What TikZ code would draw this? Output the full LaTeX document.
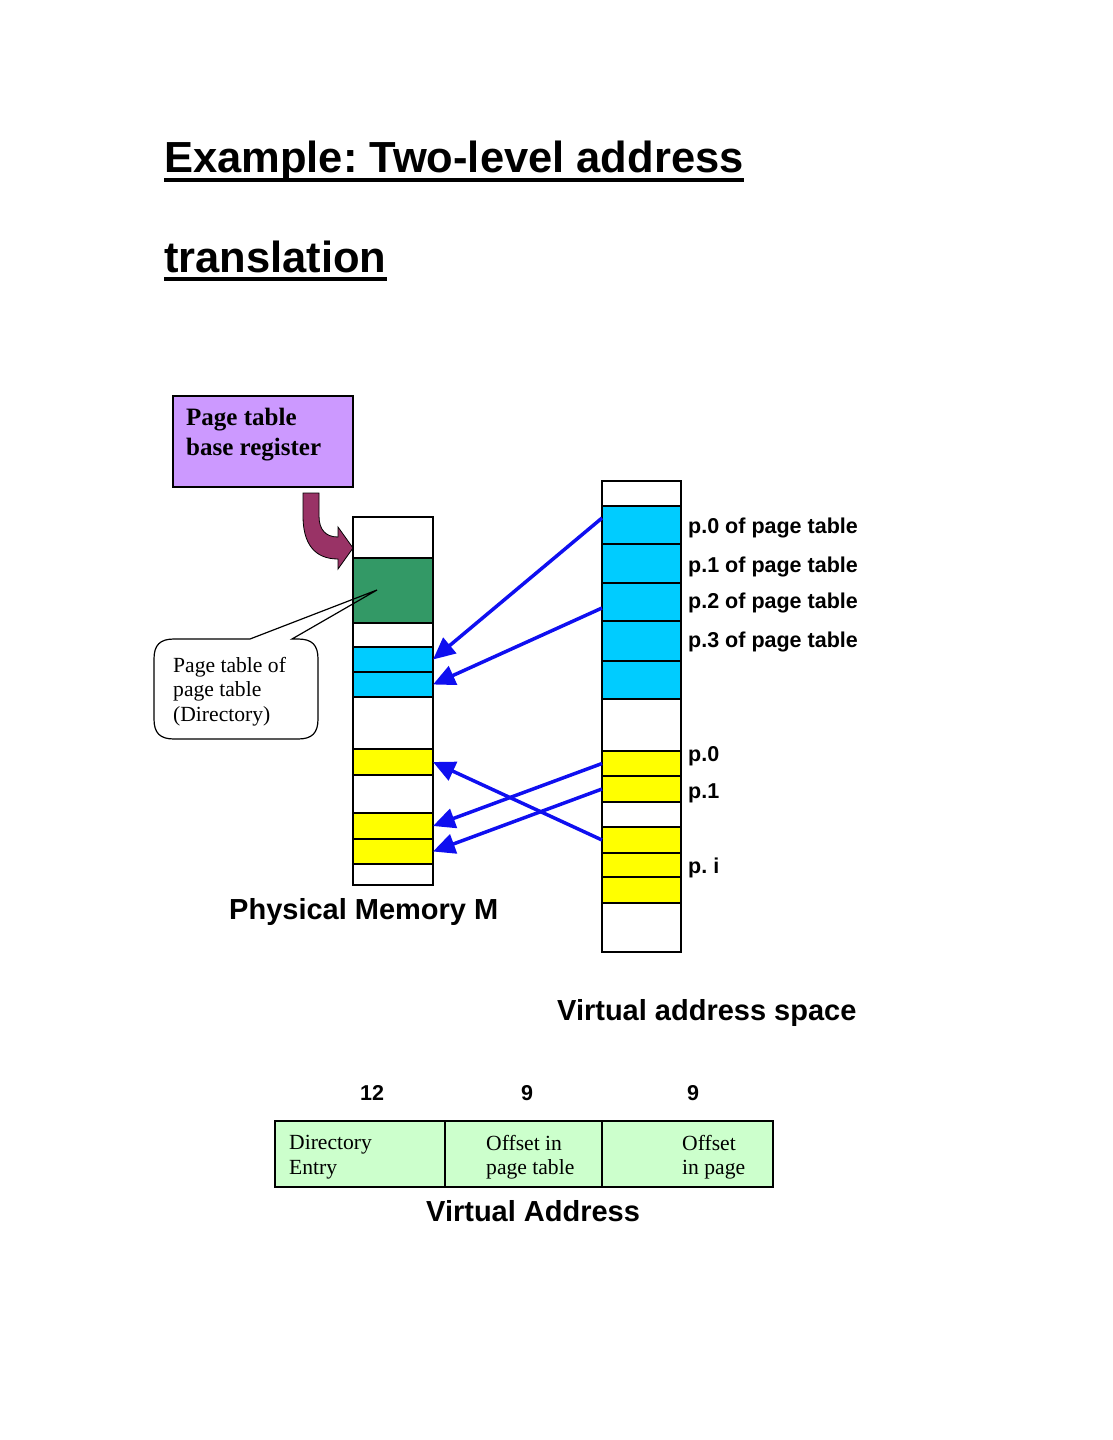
\documentclass[tikz,border=0pt]{standalone}
\usepackage{fontspec}
\setmainfont{Liberation Serif}
\newfontfamily\arialf{Liberation Sans}
\usetikzlibrary{arrows.meta}
\definecolor{cyanc}{RGB}{0,204,255}
\definecolor{yel}{RGB}{255,255,0}
\definecolor{grn}{RGB}{51,153,102}
\definecolor{purp}{RGB}{204,153,255}
\definecolor{lgrn}{RGB}{204,255,204}
\definecolor{arrblue}{RGB}{15,15,240}
\definecolor{plum}{RGB}{153,51,102}
\frenchspacing
\begin{document}
\begin{tikzpicture}[x=1pt,y=-1pt,
  mcell/.style={draw=black, line width=1.2pt, minimum width=80pt, inner sep=0pt, outer sep=0pt},
  vcell/.style={draw=black, line width=1.2pt, minimum width=79pt, inner sep=0pt, outer sep=0pt},
  titletext/.style={font=\arialf\bfseries\fontsize{43.5}{52}\selectfont, inner sep=0pt, anchor=base west},
  headtext/.style={font=\arialf\bfseries\fontsize{29}{34}\selectfont, inner sep=0pt, anchor=base west},
  labtext/.style={font=\arialf\bfseries\fontsize{21.5}{25}\selectfont, inner sep=0pt, anchor=base west},
  sertext/.style={font=\fontsize{21.6}{24.5}\selectfont, inner sep=0pt, anchor=north west, align=left},
  blarrow/.style={draw=arrblue, line width=3.5pt, -{Triangle[length=22pt,width=20pt]}},
  vabox/.style={draw=black, line width=2pt, fill=lgrn, minimum height=66pt, inner sep=0pt, outer sep=0pt}
]
\useasboundingbox (0,0) rectangle (1113,1440);

% Title
\node[titletext] (t1) at (164,172) {Example: Two-level address};
\node[titletext] (t2) at (164,272) {translation};
\draw[line width=4pt] ([yshift=-8pt]t1.base west) -- ([yshift=-8pt]t1.base east);
\draw[line width=4pt] ([yshift=-7pt]t2.base west) -- ([yshift=-7pt]t2.base east);

% Page table base register
\node[draw=black, line width=1.5pt, fill=purp, minimum width=180pt, minimum height=91pt,
      anchor=north west, inner sep=0pt] (ptbr) at (172,395) {};
\node[sertext, font=\bfseries\fontsize{25}{30}\selectfont] (ptbrtext) at (186,408) {Page table\\base register};

% Physical memory column
\node[mcell, fill=white, minimum height=41pt] (m0) at (393,537.5) {};
\node[mcell, fill=grn,   minimum height=65pt] (m1) at (393,590.5) {};
\node[mcell, fill=white, minimum height=24pt] (m2) at (393,635) {};
\node[mcell, fill=cyanc, minimum height=25pt] (m3) at (393,659.5) {};
\node[mcell, fill=cyanc, minimum height=25pt] (m4) at (393,684.5) {};
\node[mcell, fill=white, minimum height=52pt] (m5) at (393,723) {};
\node[mcell, fill=yel,   minimum height=26pt] (m6) at (393,762) {};
\node[mcell, fill=white, minimum height=38pt] (m7) at (393,794) {};
\node[mcell, fill=yel,   minimum height=26pt] (m8) at (393,826) {};
\node[mcell, fill=yel,   minimum height=25pt] (m9) at (393,851.5) {};
\node[mcell, fill=white, minimum height=21pt] (m10) at (393,874.5) {};
\draw[line width=2pt] (m0.north west) rectangle (m10.south east);
\draw[line width=2pt] (m0.south west) -- (m0.south east);
\draw[line width=2pt] (m4.south west) -- (m4.south east);
\draw[line width=2pt] (m5.south west) -- (m5.south east);
\draw[line width=2pt] (m8.south west) -- (m8.south east);
\draw[line width=2pt] (m9.south west) -- (m9.south east);

% Virtual address space column
\node[vcell, fill=white, minimum height=25pt] (v0) at (641.5,493.5) {};
\node[vcell, fill=cyanc, minimum height=38pt] (v1) at (641.5,525) {};
\node[vcell, fill=cyanc, minimum height=39pt] (v2) at (641.5,563.5) {};
\node[vcell, fill=cyanc, minimum height=38pt] (v3) at (641.5,602) {};
\node[vcell, fill=cyanc, minimum height=40pt] (v4) at (641.5,641) {};
\node[vcell, fill=cyanc, minimum height=38pt] (v5) at (641.5,680) {};
\node[vcell, fill=white, minimum height=52pt] (v6) at (641.5,725) {};
\node[vcell, fill=yel,   minimum height=25pt] (v7) at (641.5,763.5) {};
\node[vcell, fill=yel,   minimum height=26pt] (v8) at (641.5,789) {};
\node[vcell, fill=white, minimum height=25pt] (v9) at (641.5,814.5) {};
\node[vcell, fill=yel,   minimum height=26pt] (v10) at (641.5,840) {};
\node[vcell, fill=yel,   minimum height=24pt] (v11) at (641.5,865) {};
\node[vcell, fill=yel,   minimum height=26pt] (v12) at (641.5,890) {};
\node[vcell, fill=white, minimum height=49pt] (v13) at (641.5,927.5) {};
\draw[line width=2pt] (v0.north west) rectangle (v13.south east);
\draw[line width=2pt] (v4.south west) -- (v4.south east);
\draw[line width=2pt] (v9.south west) -- (v9.south east);

% Labels of virtual space
\node[labtext] (l0) at (688,533) {p.0 of page table};
\node[labtext] (l1) at (688,572) {p.1 of page table};
\node[labtext] (l2) at (688,608) {p.2 of page table};
\node[labtext] (l3) at (688,647) {p.3 of page table};
\node[labtext] (l4) at (688,761) {p.0};
\node[labtext] (l5) at (688,798) {p.1};
\node[labtext] (l6) at (688,873) {p. i};

% Blue mapping arrows
\draw[blarrow] ([yshift=7pt]v1.west) -- (m3.east);
\draw[blarrow] ([yshift=-6pt]v3.west) -- (m4.east);
\draw[blarrow] (v7.west) -- (m8.east);
\draw[blarrow] (v8.west) -- (m9.east);
\draw[blarrow] (v10.west) -- (m6.east);

% Curved block arrow from base register to memory
\filldraw[fill=plum, draw=black, line width=0.8pt]
  (303,493) -- (319,493) -- (319,516)
  .. controls (319,530) and (326,537) .. (338,537)
  -- (338,527) -- (353,548) -- (338,569) -- (338,559)
  .. controls (314,559) and (303,543) .. (303,516) -- cycle;

% Callout
\draw[black, line width=1.2pt]
  (250,639) -- (174,639) .. controls (160,639) and (154,645) .. (154,659)
  -- (154,719) .. controls (154,733) and (160,739) .. (174,739)
  -- (298,739) .. controls (312,739) and (318,733) .. (318,719)
  -- (318,659) .. controls (318,645) and (312,639) .. (298,639)
  -- (292,639) -- (377,590) -- cycle;
\node[sertext] (calltext) at (173,657) {Page table of\\page table\\(Directory)};

% Headings
\node[headtext] (pm) at (229,919) {Physical Memory M};
\node[headtext] (vas) at (557,1020) {Virtual address space};

% Virtual address format
\node[labtext, anchor=base] (n12) at (372,1100) {12};
\node[labtext, anchor=base] (n9a) at (527,1100) {9};
\node[labtext, anchor=base] (n9b) at (693,1100) {9};
\node[vabox, minimum width=170pt] (va1) at (360,1154) {};
\node[vabox, minimum width=157pt] (va2) at (523.5,1154) {};
\node[vabox, minimum width=171pt] (va3) at (687.5,1154) {};
\node[sertext] (va1t) at (289,1135) {Directory\\Entry};
\node[sertext] (va2t) at (486,1135) {Offset in\\page table};
\node[sertext] (va3t) at (682,1135) {Offset\\in page};
\node[headtext] (vaddr) at (426,1221) {Virtual Address};
\end{tikzpicture}
\end{document}
